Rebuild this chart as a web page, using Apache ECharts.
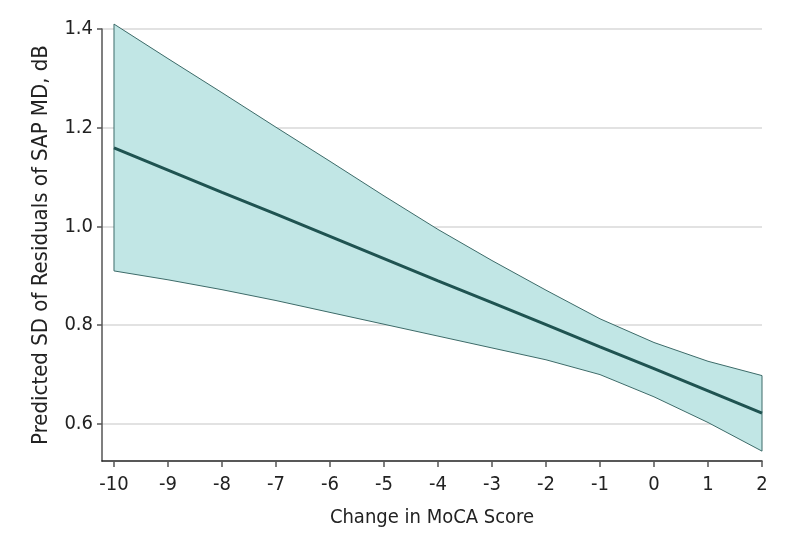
<!DOCTYPE html>
<html>
<head>
<meta charset="utf-8">
<script src="https://cdn.jsdelivr.net/npm/echarts@6/dist/echarts.min.js"></script>
<style>
  html, body { margin: 0; padding: 0; background: #fff; }
  #chart { width: 794px; height: 546px; }
</style>
</head>
<body>
<div id="chart"></div>
<script>
const xValues = [-10, -9, -8, -7, -6, -5, -4, -3, -2, -1, 0, 1, 2];
const meanValues = [1.159, 1.114, 1.069, 1.025, 0.980, 0.935, 0.890, 0.846, 0.801, 0.756, 0.712, 0.667, 0.622];
const upperValues = [1.410, 1.340, 1.271, 1.201, 1.132, 1.062, 0.994, 0.931, 0.871, 0.813, 0.765, 0.727, 0.698];
const lowerValues = [0.910, 0.892, 0.872, 0.850, 0.826, 0.802, 0.778, 0.754, 0.730, 0.700, 0.655, 0.603, 0.545];
const xTicks = [-10, -9, -8, -7, -6, -5, -4, -3, -2, -1, 0, 1, 2];
const yTicks = [0.6, 0.8, 1.0, 1.2, 1.4];
const xTitle = 'Change in MoCA Score';
const yTitle = 'Predicted SD of Residuals of SAP MD, dB';

const FONT = "'Liberation Sans Narrow', 'DejaVu Sans Condensed', 'Noto Sans', sans-serif";

const chart = echarts.init(document.getElementById('chart'), null, { renderer: 'canvas' });

chart.setOption({
  animation: false,
  backgroundColor: '#fff',
  grid: { left: 102, right: 32, top: 29, bottom: 85, containLabel: false },
  xAxis: {
    type: 'value',
    min: -10.222,
    max: 2,
    name: xTitle,
    nameLocation: 'middle',
    nameGap: 47,
    nameTextStyle: { fontFamily: FONT, fontSize: 20, color: '#222' },
    axisLine: { show: true, onZero: false, lineStyle: { color: '#222', width: 1.5 } },
    axisTick: { show: true, length: 6, customValues: xTicks, lineStyle: { color: '#555', width: 1.5 } },
    axisLabel: {
      customValues: xTicks, margin: 14, fontFamily: FONT, fontSize: 20, color: '#222',
      formatter: v => (v < 0 ? '-' + Math.abs(v) : String(v))
    },
    splitLine: { show: false }
  },
  yAxis: {
    type: 'value',
    min: 0.525,
    max: 1.4,
    name: yTitle,
    nameLocation: 'middle',
    nameGap: 50,
    nameRotate: 90,
    nameTextStyle: { fontFamily: FONT, fontSize: 22, color: '#222' },
    axisLine: { show: true, onZero: false, lineStyle: { color: '#555', width: 1.5 } },
    axisTick: { show: true, length: 5, customValues: yTicks, lineStyle: { color: '#555', width: 1.5 } },
    axisLabel: {
      customValues: yTicks, margin: 9, fontFamily: FONT, fontSize: 20, color: '#222',
      formatter: v => v.toFixed(1)
    },
    splitLine: { show: true, lineStyle: { color: '#d9d9d9', width: 1.5 } }
  },
  series: [
    {
      type: 'custom',
      z: 2,
      data: [0],
      renderItem: function (params, api) {
        const pts = [];
        for (let i = 0; i < xValues.length; i++) pts.push(api.coord([xValues[i], upperValues[i]]));
        for (let i = xValues.length - 1; i >= 0; i--) pts.push(api.coord([xValues[i], lowerValues[i]]));
        return {
          type: 'polygon',
          shape: { points: pts },
          style: { fill: '#c1e6e5', stroke: '#3d6b69', lineWidth: 1 }
        };
      }
    },
    {
      type: 'line',
      z: 3,
      data: xValues.map((x, i) => [x, meanValues[i]]),
      showSymbol: false,
      lineStyle: { color: '#1f5351', width: 3 }
    }
  ]
});
</script>
</body>
</html>
